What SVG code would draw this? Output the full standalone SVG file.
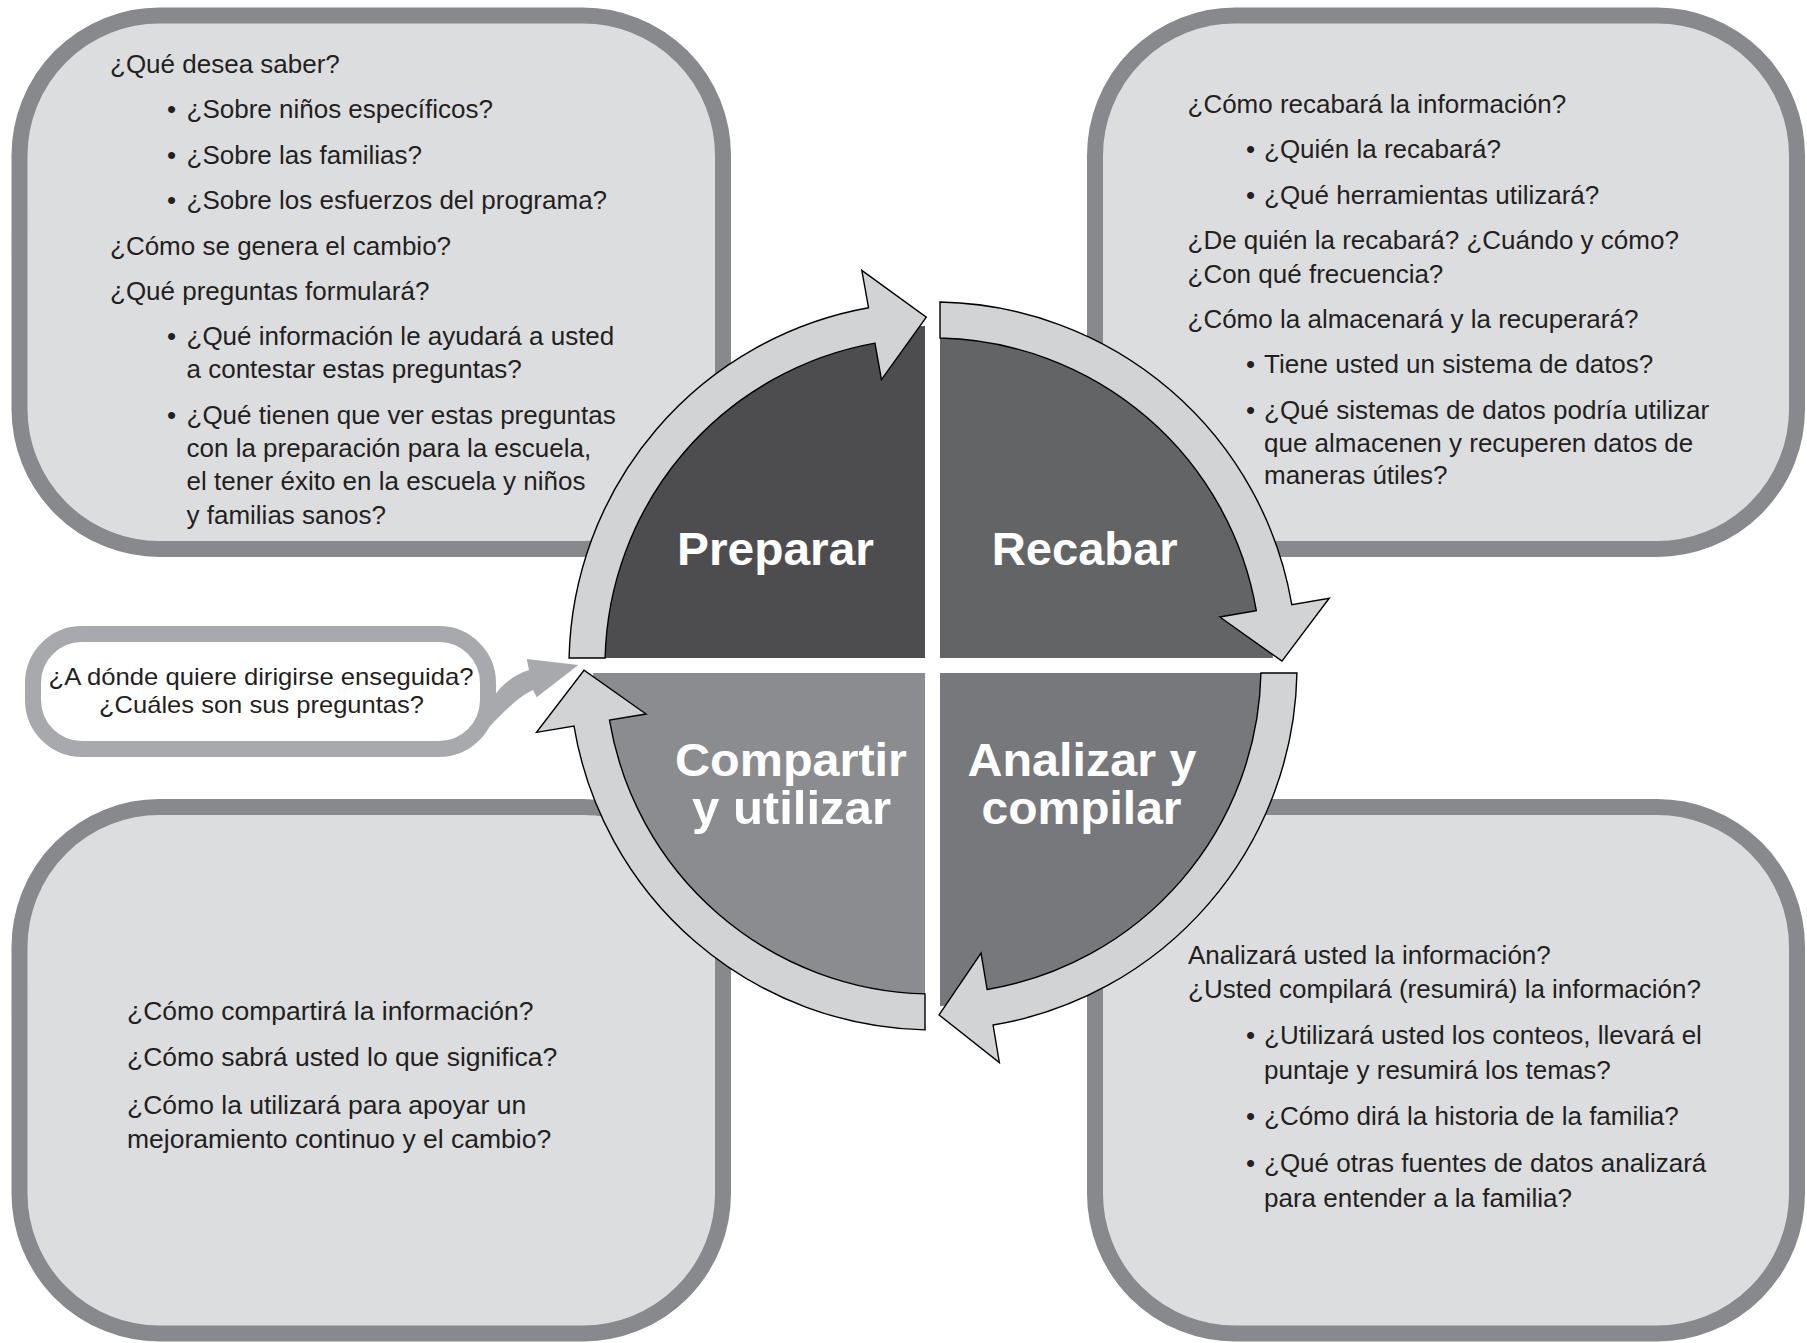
<svg xmlns="http://www.w3.org/2000/svg" width="1807" height="1343" viewBox="0 0 1807 1343">
<style>
.box{fill:#dcdddf;stroke:#88898c;stroke-width:16}
.t{font-family:"Liberation Sans",Arial,sans-serif;font-size:26px;fill:#231f20}
.tb{font-family:"Liberation Sans",Arial,sans-serif;font-size:26.5px;fill:#231f20}
.lbl{font-family:"Liberation Sans",Arial,sans-serif;font-size:47px;font-weight:bold;fill:#ffffff;text-anchor:middle}
.ring{fill:#d1d3d4;stroke:#000000;stroke-width:1.4;stroke-linejoin:miter}
.bub{font-family:"Liberation Sans",Arial,sans-serif;font-size:24px;fill:#231f20;text-anchor:middle}
</style>
<rect width="1807" height="1343" fill="#ffffff"/>

<g id="box-preparar">
<rect class="box" x="19.5" y="15.5" width="703.5" height="533.5" rx="140" ry="140"/>
<text class="t" x="110" y="73">¿Qué desea saber?</text>
<text class="t" x="167" y="118">•</text><text class="t" x="186.5" y="118">¿Sobre niños específicos?</text>
<text class="t" x="167" y="163.5">•</text><text class="t" x="186.5" y="163.5">¿Sobre las familias?</text>
<text class="t" x="167" y="209">•</text><text class="t" x="186.5" y="209">¿Sobre los esfuerzos del programa?</text>
<text class="t" x="110" y="254.5">¿Cómo se genera el cambio?</text>
<text class="t" x="110" y="300">¿Qué preguntas formulará?</text>
<text class="t" x="167" y="345">•</text><text class="t" x="186.5" y="345">¿Qué información le ayudará a usted</text>
<text class="t" x="186.5" y="378">a contestar estas preguntas?</text>
<text class="t" x="167" y="423.5">•</text><text class="t" x="186.5" y="423.5">¿Qué tienen que ver estas preguntas</text>
<text class="t" x="186.5" y="457">con la preparación para la escuela,</text>
<text class="t" x="186.5" y="490">el tener éxito en la escuela y niños</text>
<text class="t" x="186.5" y="523.5">y familias sanos?</text>
</g>

<g id="box-recabar">
<rect class="box" x="1095" y="15.5" width="702" height="533.5" rx="140" ry="140"/>
<text class="t" x="1187.5" y="113">¿Cómo recabará la información?</text>
<text class="t" x="1246" y="158.3">•</text><text class="t" x="1264" y="158.3">¿Quién la recabará?</text>
<text class="t" x="1246" y="204.4">•</text><text class="t" x="1264" y="204.4">¿Qué herramientas utilizará?</text>
<text class="t" x="1187.5" y="249.4">¿De quién la recabará? ¿Cuándo y cómo?</text>
<text class="t" x="1187.5" y="282.8">¿Con qué frecuencia?</text>
<text class="t" x="1187.5" y="327.7">¿Cómo la almacenará y la recuperará?</text>
<text class="t" x="1246" y="372.7">•</text><text class="t" x="1264" y="372.7">Tiene usted un sistema de datos?</text>
<text class="t" x="1246" y="418.8">•</text><text class="t" x="1264" y="418.8">¿Qué sistemas de datos podría utilizar</text>
<text class="t" x="1264" y="452">que almacenen y recuperen datos de</text>
<text class="t" x="1264" y="484.4">maneras útiles?</text>
</g>

<g id="box-compartir">
<rect class="box" x="19.5" y="807" width="703.5" height="526.5" rx="140" ry="140"/>
<text class="tb" x="127" y="1020">¿Cómo compartirá la información?</text>
<text class="tb" x="127" y="1066">¿Cómo sabrá usted lo que significa?</text>
<text class="tb" x="127" y="1113.5">¿Cómo la utilizará para apoyar un</text>
<text class="tb" x="127" y="1148">mejoramiento continuo y el cambio?</text>
</g>

<g id="box-analizar">
<rect class="box" x="1095" y="807" width="702" height="526.5" rx="140" ry="140"/>
<text class="t" x="1188" y="963.5">Analizará usted la información?</text>
<text class="t" x="1188" y="997.5">¿Usted compilará (resumirá) la información?</text>
<text class="t" x="1246" y="1044">•</text><text class="t" x="1264" y="1044">¿Utilizará usted los conteos, llevará el</text>
<text class="t" x="1264" y="1079">puntaje y resumirá los temas?</text>
<text class="t" x="1246" y="1125">•</text><text class="t" x="1264" y="1125">¿Cómo dirá la historia de la familia?</text>
<text class="t" x="1246" y="1171.5">•</text><text class="t" x="1264" y="1171.5">¿Qué otras fuentes de datos analizará</text>
<text class="t" x="1264" y="1206.6">para entender a la familia?</text>
</g>

<g id="quad-preparar">
<path d="M925,658 L925,326.09 A340 340 0 0 0 593.09,658 Z" fill="#4d4d4f"/>
<text class="lbl" x="775.5" y="564.5" textLength="197" lengthAdjust="spacingAndGlyphs">Preparar</text>
</g>
<g id="quad-recabar">
<path d="M940,658 L940,326.07 A340 340 0 0 1 1272.91,658 Z" fill="#636466"/>
<text class="lbl" x="1084.7" y="564.5" textLength="186" lengthAdjust="spacingAndGlyphs">Recabar</text>
</g>
<g id="quad-analizar">
<path d="M940,673 L1272.91,673 A340 340 0 0 1 940,1005.93 Z" fill="#77787b"/>
<text class="lbl" x="1082" y="776" textLength="229" lengthAdjust="spacingAndGlyphs">Analizar y</text>
<text class="lbl" x="1081.5" y="824" textLength="200" lengthAdjust="spacingAndGlyphs">compilar</text>
</g>
<g id="quad-compartir">
<path d="M925,673 L925,1005.91 A340 340 0 0 1 593.09,673 Z" fill="#8b8c8f"/>
<text class="lbl" x="791" y="776" textLength="232" lengthAdjust="spacingAndGlyphs">Compartir</text>
<text class="lbl" x="791.5" y="824" textLength="199" lengthAdjust="spacingAndGlyphs">y utilizar</text>
</g>

<g id="bubble">
<rect x="33" y="634" width="455" height="115" rx="49" ry="49" fill="#ffffff" stroke="#a7a9ac" stroke-width="16"/>
<text class="bub" x="261" y="685" textLength="425" lengthAdjust="spacingAndGlyphs">¿A dónde quiere dirigirse enseguida?</text>
<text class="bub" x="261.5" y="713" textLength="325" lengthAdjust="spacingAndGlyphs">¿Cuáles son sus preguntas?</text>
</g>

<g id="connectors">
<path class="ring" d="M569.09,658 A364 364 0 0 1 868.54,307.75 L861.81,270.35 L926.30,317.06 L881.47,379.60 L874.92,343.18 A328 328 0 0 0 605.10,658 Z"/>
<path class="ring" d="M940,302.07 A364 364 0 0 1 1291.79,604.67 L1329.25,598.27 L1281.97,661.13 L1219.84,616.97 L1256.31,610.74 A328 328 0 0 0 940,338.07 Z"/>
<path class="ring" d="M1296.93,673 A364 364 0 0 1 993.08,1025.01 L999.35,1062.49 L939.09,1014.95 L981.03,953.01 L987.14,989.50 A328 328 0 0 0 1260.93,673 Z"/>
<path class="ring" d="M925,1029.91 A364 364 0 0 1 573.99,726.08 L536.51,732.35 L584.03,670.26 L645.99,714.03 L609.50,720.14 A328 328 0 0 0 925,993.90 Z"/>
<path d="M462,752 C485,735 510,700 533,690 L536.7,697.3 L578.3,665 L526.7,659 L529,670 C515,674 502,684 492,699 Z" fill="#a7a9ac"/>
</g>
</svg>
